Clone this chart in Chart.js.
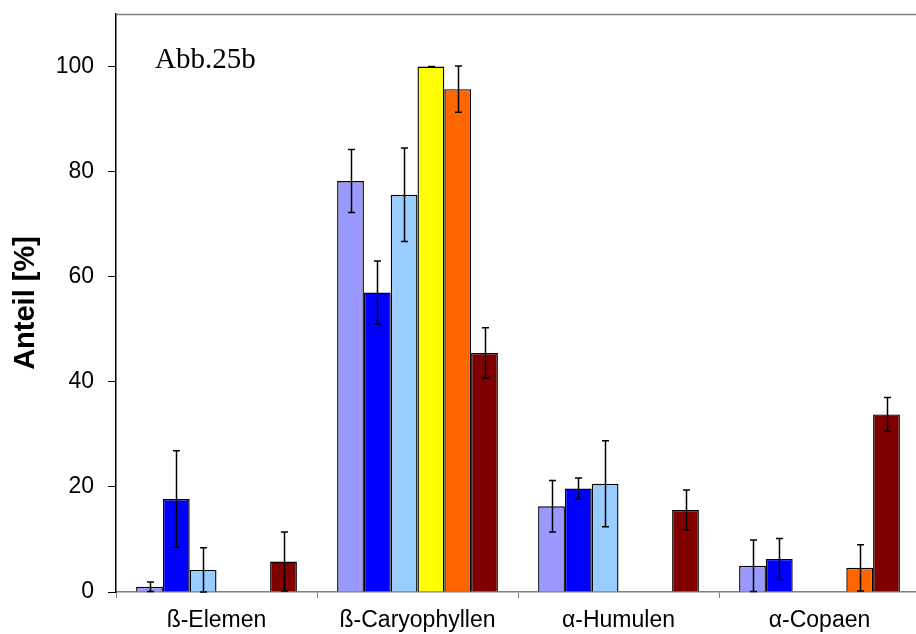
<!DOCTYPE html>
<html>
<head>
<meta charset="utf-8">
<script src="https://cdn.jsdelivr.net/npm/chart.js@4"></script>
<style>
  html, body { margin: 0; padding: 0; background: #fff; overflow: hidden; }
  #wrap { width: 922px; height: 634px; }
</style>
</head>
<body>
<div id="wrap"><canvas id="myChart" width="922" height="634"></canvas></div>
<script>
var categories = ["ß-Elemen", "ß-Caryophyllen", "α-Humulen", "α-Copaen"];
var yTicks = [0, 20, 40, 60, 80, 100];

// mean values per series
var serie1 = [1.0, 78.2, 16.3, 5.0];
var serie2 = [17.7, 57.0, 19.7, 6.3];
var serie3 = [4.2, 75.6, 20.6, null];
var serie4 = [null, 100, null, null];
var serie5 = [null, 95.7, null, 4.6];
var serie6 = [5.8, 45.5, 15.6, 33.8];

// standard deviations
var err1 = [0.9, 6.0, 4.9, 4.9];
var err2 = [9.2, 6.0, 2.0, 3.9];
var err3 = [4.2, 8.9, 8.2, null];
var err4 = [null, 0, null, null];
var err5 = [null, 4.4, null, 4.4];
var err6 = [5.6, 4.8, 3.8, 3.2];

var errorBars = {
  id: "errorBars",
  afterDatasetsDraw: function (chart) {
    var ctx = chart.ctx;
    var y = chart.scales.y;
    ctx.save();
    ctx.strokeStyle = "#000";
    ctx.lineWidth = 1.5;
    chart.data.datasets.forEach(function (ds, i) {
      var meta = chart.getDatasetMeta(i);
      meta.data.forEach(function (bar, j) {
        var v = ds.data[j];
        var e = ds.errors[j];
        if (v == null || e == null) return;
        var top = y.getPixelForValue(v + e);
        var bot = y.getPixelForValue(v - e);
        var x = Math.round(bar.x) + 0.5;
        ctx.beginPath();
        ctx.moveTo(x, top);
        ctx.lineTo(x, bot);
        ctx.moveTo(x - 3.5, top);
        ctx.lineTo(x + 3.5, top);
        ctx.moveTo(x - 3.5, bot);
        ctx.lineTo(x + 3.5, bot);
        ctx.stroke();
      });
    });
    ctx.restore();
  },
  afterDraw: function (chart) {
    var ctx = chart.ctx;
    var a = chart.chartArea;
    ctx.save();
    ctx.strokeStyle = "#808080";
    ctx.lineWidth = 1.5;
    ctx.beginPath();
    ctx.moveTo(a.left, a.top + 0.5);
    ctx.lineTo(a.right, a.top + 0.5);
    ctx.stroke();
    ctx.fillStyle = "#000";
    ctx.font = "29px 'Liberation Serif', 'Times New Roman', serif";
    ctx.textBaseline = "alphabetic";
    ctx.fillText("Abb.25b", 155, 68);
    ctx.restore();
  },
};

function serie(label, data, errors, color) {
  return {
    label: label,
    data: data,
    errors: errors,
    backgroundColor: color,
    borderColor: "#000",
    borderWidth: 1.4,
  };
}

var ctx = document.getElementById("myChart").getContext("2d");
var myChart = new Chart(ctx, {
  type: "bar",
  data: {
    labels: categories,
    datasets: [
      serie("Serie 1", serie1, err1, "#9999FF"),
      serie("Serie 2", serie2, err2, "#0000FF"),
      serie("Serie 3", serie3, err3, "#99CCFF"),
      serie("Serie 4", serie4, err4, "#FFFF00"),
      serie("Serie 5", serie5, err5, "#FF6600"),
      serie("Serie 6", serie6, err6, "#800000"),
    ],
  },
  plugins: [errorBars],
  options: {
    responsive: false,
    animation: false,
    layout: { padding: { left: 0, top: 14, right: 2, bottom: 0 } },
    categoryPercentage: 0.8,
    barPercentage: 1.0,
    plugins: {
      legend: { display: false },
      tooltip: { enabled: false },
    },
    scales: {
      x: {
        grid: {
          display: true,
          drawOnChartArea: false,
          offset: true,
          tickLength: 6,
          color: "#808080",
        },
        border: { color: "#808080", width: 1.5 },
        ticks: {
          color: "#000",
          padding: 9,
          font: { family: "'Liberation Sans', Arial, sans-serif", size: 23 },
        },
        afterFit: function (scale) {
          scale.height = 42;
          scale.paddingLeft = 0;
          scale.paddingRight = 0;
        },
      },
      y: {
        min: 0,
        max: 110,
        afterBuildTicks: function (scale) {
          scale.ticks = yTicks.map(function (v) { return { value: v }; });
        },
        grid: {
          display: true,
          drawOnChartArea: false,
          tickLength: 8,
          color: "#000",
        },
        border: { color: "#000", width: 1.5 },
        ticks: {
          color: "#000",
          padding: 14,
          font: { family: "'Liberation Sans', Arial, sans-serif", size: 23 },
        },
        title: {
          display: true,
          text: "Anteil [%]",
          color: "#000",
          padding: { top: 11, bottom: 0 },
          font: { family: "'Liberation Sans', Arial, sans-serif", size: 29, weight: "bold", lineHeight: 1 },
        },
        afterFit: function (scale) {
          scale.width = 116;
          scale.paddingTop = 0;
          scale.paddingBottom = 0;
        },
      },
    },
  },
});
</script>
</body>
</html>
